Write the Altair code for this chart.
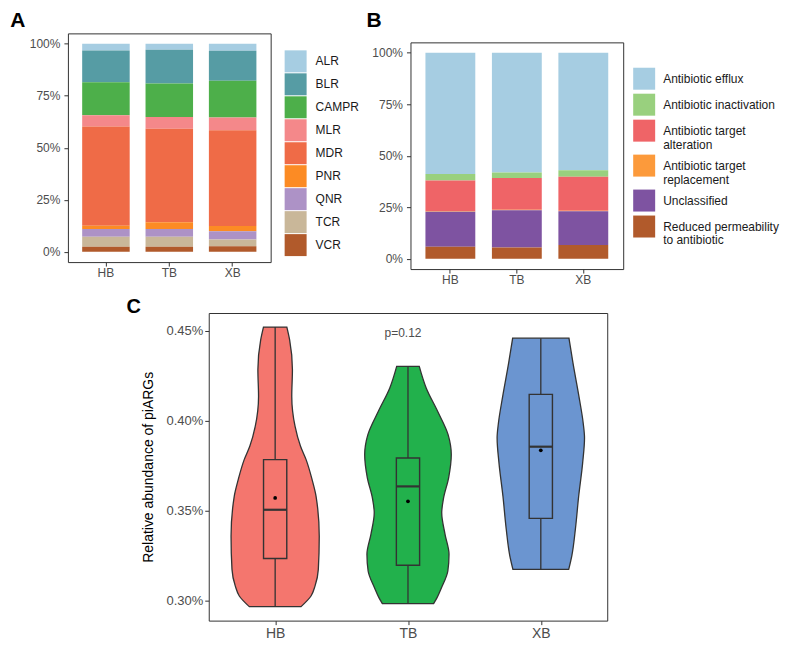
import altair as alt
import pandas as pd

groups = ["HB", "TB", "XB"]

# ---- Panel A: ARG classes (% of total) ----
a_classes = ["ALR", "BLR", "CAMPR", "MLR", "MDR", "PNR", "QNR", "TCR", "VCR"]
a_colors = ["#a6cde2", "#569ca4", "#4daf4a", "#f4888a", "#ef6b47",
            "#fc8b24", "#ad92c6", "#c9b799", "#b15a2b"]
a_HB = [3.2, 15.3, 15.9, 5.4, 47.7, 1.6, 3.7, 4.8, 2.4]
a_TB = [2.9, 16.2, 16.1, 5.7, 45.0, 3.2, 3.7, 4.8, 2.4]
a_XB = [3.4, 14.4, 17.7, 6.1, 46.0, 2.6, 3.9, 3.3, 2.6]

# ---- Panel B: resistance mechanisms (% of total) ----
b_classes = ["Antibiotic efflux", "Antibiotic inactivation",
             "Antibiotic target alteration", "Antibiotic target replacement",
             "Unclassified", "Reduced permeability to antibiotic"]
b_colors = ["#a6cde2", "#99d07e", "#ef6467", "#fc9a3b", "#7e53a1", "#b15a2b"]
b_HB = [58.9, 3.1, 15.0, 0.2, 17.0, 5.8]
b_TB = [58.1, 2.7, 15.4, 0.2, 18.1, 5.5]
b_XB = [57.0, 3.2, 16.5, 0.2, 16.4, 6.7]
b_wrap = {"Antibiotic target alteration": ["Antibiotic target", "alteration"],
          "Antibiotic target replacement": ["Antibiotic target", "replacement"],
          "Reduced permeability to antibiotic": ["Reduced permeability", "to antibiotic"]}

# ---- Panel C: relative abundance of piARGs (%) ----
c_colors = ["#f4766e", "#22b14c", "#6b95d0"]
c_pos = [1, 2, 3]
# violin outline: value levels and half widths (category units)
hb_v = [0.4521, 0.4450, 0.4283, 0.4135, 0.3968, 0.3857, 0.3783, 0.3672, 0.3579, 0.3357, 0.3172, 0.3079, 0.3024, 0.2965]
hb_w = [0.088, 0.109, 0.130, 0.125, 0.150, 0.191, 0.233, 0.278, 0.308, 0.332, 0.325, 0.300, 0.270, 0.195]
tb_v = [0.4302, 0.4182, 0.4052, 0.3922, 0.3811, 0.3682, 0.3570, 0.3487, 0.3367, 0.3256, 0.3163, 0.3071, 0.3015, 0.2982]
tb_w = [0.085, 0.137, 0.223, 0.302, 0.326, 0.306, 0.268, 0.254, 0.279, 0.309, 0.300, 0.253, 0.219, 0.193]
xb_v = [0.4459, 0.4321, 0.4135, 0.3987, 0.3904, 0.3765, 0.3579, 0.3394, 0.3246, 0.3172]
xb_w = [0.212, 0.242, 0.287, 0.319, 0.329, 0.315, 0.285, 0.260, 0.233, 0.210]
# box statistics
c_min = [0.2965, 0.2982, 0.3172]
c_q1 = [0.3233, 0.3195, 0.3456]
c_med = [0.3504, 0.3634, 0.3855]
c_q3 = [0.3783, 0.3792, 0.4146]
c_max = [0.4521, 0.4302, 0.4459]
c_mean = [0.3570, 0.3551, 0.3835]
p_text = "p=0.12"

FONT = "Liberation Sans"
AX = "#4d4d4d"
TICK = "#333333"
NOFRAME = alt.ViewBackground(strokeOpacity=0)


def stack_df(classes, series):
    rows = []
    for g, vals in zip(groups, series):
        for i, (c, v) in enumerate(zip(classes, vals)):
            rows.append({"group": g, "cls": c, "value": v, "rank": i})
    return pd.DataFrame(rows)


def letter(t, dx, dy, size):
    return alt.Chart(pd.DataFrame({"t": [t]})).mark_text(
        align="left", baseline="alphabetic", fontSize=size, fontWeight="bold",
        color="black", font=FONT).encode(x=alt.value(dx), y=alt.value(dy), text="t:N")


def blank(w, h):
    return alt.Chart(pd.DataFrame({"s": [0]})).mark_rule(opacity=0).encode(
        x=alt.value(0), y=alt.value(0), y2=alt.value(1)
    ).properties(width=w, height=h, view=NOFRAME)


def bar_panel(df, classes, colors, legend):
    x_axis = alt.Axis(title=None, labelAngle=0, grid=False, domain=False, tickColor=TICK,
                      tickSize=4, labelPadding=1.5, labelFontSize=12, labelColor=AX, labelFont=FONT)
    y_axis = alt.Axis(title=None, values=[0, 25, 50, 75, 100], labelExpr="datum.value + '%'",
                      grid=False, domain=False, tickColor=TICK, tickSize=4, labelPadding=4,
                      labelFontSize=12, labelColor=AX, labelFont=FONT)
    return alt.Chart(df).mark_bar().encode(
        x=alt.X("group:N", sort=groups, axis=x_axis,
                scale=alt.Scale(paddingInner=0.25, paddingOuter=0.225)),
        y=alt.Y("value:Q", stack="zero", axis=y_axis,
                scale=alt.Scale(domain=[-5, 105], nice=False)),
        color=alt.Color("cls:N", scale=alt.Scale(domain=classes, range=colors), legend=legend),
        order=alt.Order("rank:Q", sort="descending"),
    )


dfa = stack_df(a_classes, [a_HB, a_TB, a_XB])
leg_a = alt.Legend(title=None, orient="none", legendX=217, legendY=17, padding=0,
                   symbolType="square", symbolSize=484, symbolStrokeWidth=0,
                   labelFontSize=12, labelOffset=9, rowPadding=1, labelColor="#1a1a1a",
                   labelFont=FONT)
panel_a = alt.layer(bar_panel(dfa, a_classes, a_colors, leg_a),
                    letter("A", -57.7, -6.6, 21)).properties(width=203, height=229)

dfb = stack_df(b_classes, [b_HB, b_TB, b_XB])
wrap_expr = "datum.label"
for k, v in b_wrap.items():
    wrap_expr = f"datum.label == '{k}' ? ['{v[0]}', '{v[1]}'] : ({wrap_expr})"
leg_b = alt.Legend(title=None, orient="none", legendX=223, legendY=34.4, padding=0,
                   symbolType="square", symbolSize=484, symbolStrokeWidth=0,
                   labelFontSize=12, labelOffset=8, rowPadding=4, labelColor="#1a1a1a",
                   labelFont=FONT, labelExpr=wrap_expr, labelLimit=300)
panel_b = bar_panel(dfb, b_classes, b_colors, leg_b).properties(width=213, height=227)
# letter B sits in a thin strip above panel B, which pushes B's frame down
strip_b = alt.layer(blank(213, 7.5), letter("B", -44, -6.6, 21)).properties(
    width=213, height=7.5, view=NOFRAME)
col_b = alt.vconcat(strip_b, panel_b, spacing=0)

# ---- Panel C data frames ----
vrows = []
for g, p, vs, ws in zip(groups, c_pos, [hb_v, tb_v, xb_v], [hb_w, tb_w, xb_w]):
    for v, w in zip(vs, ws):
        vrows.append({"group": g, "pos": p, "v": v, "hw": w})
dfv = pd.DataFrame(vrows)
dfs = pd.DataFrame({"group": groups, "pos": c_pos, "mn": c_min, "q1": c_q1, "med": c_med,
                    "q3": c_q3, "mx": c_max, "mean": c_mean})

cx_axis = alt.Axis(title=None, values=c_pos,
                   labelExpr="[" + ",".join(f"'{g}'" for g in groups) + "][datum.value - 1]",
                   grid=False, domain=False, tickColor=TICK, tickSize=4, labelPadding=2,
                   labelFontSize=14, labelColor=AX, labelFont=FONT)
cy_axis = alt.Axis(title="Relative abundance of piARGs", values=[0.30, 0.35, 0.40, 0.45],
                   labelExpr="format(datum.value, '.2f') + '%'", grid=False, domain=False,
                   tickColor=TICK, tickSize=4, labelPadding=2, labelFontSize=13, labelColor=AX,
                   labelFont=FONT, titleFontSize=14, titleFontWeight="normal", titleColor="black",
                   titleFont=FONT, titlePadding=10)
xs = alt.Scale(domain=[0.5, 3.5], nice=False, zero=False)
ys = alt.Scale(domain=[0.2887, 0.4599], nice=False, zero=False)
cs = alt.Scale(domain=groups, range=c_colors)


def X(f):
    return alt.X(f, scale=xs, axis=cx_axis, stack=False)


def Y(f):
    return alt.Y(f, scale=ys, axis=cy_axis)


violin = alt.Chart(dfv).transform_calculate(
    xl="datum.pos - datum.hw", xr="datum.pos + datum.hw"
).mark_area(orient="horizontal", interpolate="monotone", stroke="#333333",
            strokeWidth=1.3, opacity=1).encode(
    y=Y("v:Q"), x=X("xl:Q"), x2="xr:Q",
    color=alt.Color("group:N", scale=cs, legend=None))

whisk = alt.Chart(dfs).mark_rule(color="#333333", strokeWidth=1.3).encode(
    x=X("pos:Q"), y=Y("mn:Q"), y2="mx:Q")

box_base = alt.Chart(dfs).transform_calculate(
    b1="datum.pos - 0.0875", b2="datum.pos + 0.0875")
box = box_base.mark_rect(stroke="#333333", strokeWidth=1.4).encode(
    x=X("b1:Q"), x2="b2:Q", y=Y("q1:Q"), y2="q3:Q",
    fill=alt.Fill("group:N", scale=cs, legend=None))
median = box_base.mark_rule(color="#333333", strokeWidth=2.2).encode(
    x=X("b1:Q"), x2="b2:Q", y=Y("med:Q"))
mean = alt.Chart(dfs).mark_point(filled=True, color="black", size=14, opacity=1).encode(
    x=X("pos:Q"), y=Y("mean:Q"))
ptxt = alt.Chart(pd.DataFrame({"pos": [2], "v": [0.4489], "t": [p_text]})).mark_text(
    fontSize=12, color=AX, font=FONT, dx=-5, baseline="middle").encode(
    x=X("pos:Q"), y=Y("v:Q"), text="t:N")

panel_c = alt.layer(violin, whisk, box, median, mean, ptxt,
                    letter("C", -82.3, 0, 20)).properties(width=399, height=308)

row1 = alt.hconcat(panel_a, col_b, spacing=6).resolve_scale(color="independent")
row2 = alt.hconcat(blank(58, 1), panel_c, spacing=0).resolve_scale(color="independent")

chart = alt.vconcat(row1, row2, spacing=10).resolve_scale(color="independent").properties(
    padding={"left": 1, "top": 0, "right": 0, "bottom": 0}
).configure(font=FONT).configure_view(stroke="#333333", strokeWidth=1)

chart.save("out.html", embed_options={"renderer": "svg", "actions": False})
